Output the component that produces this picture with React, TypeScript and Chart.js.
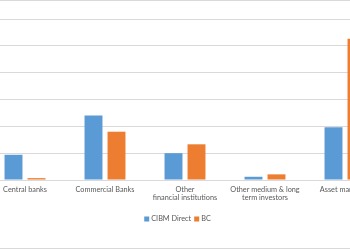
import React, { useEffect, useRef } from "react";
import { Chart, registerables } from "chart.js";

Chart.register(...registerables);

const categories: (string | string[])[] = [
  "Central banks",
  "Commercial Banks",
  ["Other", "financial institutions"],
  ["Other medium & long", "term investors"],
  "Asset managers",
];
const cibmDirect = [9.4, 24.0, 10.0, 1.2, 19.7];
const bc = [0.7, 18.0, 13.3, 2.1, 52.6];
const seriesNames = ["CIBM Direct", "BC"];
const seriesColors = ["#5B9BD5", "#ED7D31"];

const FONT = "Lato, 'Liberation Sans', sans-serif";
const TEXT_COLOR = "#595959";

// Compact legend row centred under the plot, built from the datasets.
const compactLegend = {
  id: "compactLegend",
  afterDraw(chart: any) {
    const ctx = chart.ctx as CanvasRenderingContext2D;
    const box = 5;
    const boxGap = 2;
    const itemGap = 3;
    const y = 219;
    ctx.save();
    ctx.font = `7.3px ${FONT}`;
    ctx.textBaseline = "middle";
    const items = chart.data.datasets.map((ds: any) => ({
      text: ds.label as string,
      color: ds.backgroundColor as string,
      w: ctx.measureText(ds.label).width,
    }));
    const total =
      items.reduce((s: number, it: any) => s + box + boxGap + it.w, 0) +
      itemGap * (items.length - 1);
    let x = chart.width / 2 - total / 2;
    for (const it of items) {
      ctx.fillStyle = it.color;
      ctx.fillRect(x, y - box / 2, box, box);
      x += box + boxGap;
      ctx.fillStyle = TEXT_COLOR;
      ctx.textAlign = "left";
      ctx.fillText(it.text, x, y);
      x += it.w + itemGap;
    }
    ctx.restore();
  },
};

export default function App() {
  const ref = useRef<HTMLCanvasElement | null>(null);

  useEffect(() => {
    if (!ref.current) return;
    const chart = new Chart(ref.current, {
      type: "bar",
      data: {
        labels: categories,
        datasets: [
          {
            label: seriesNames[0],
            data: cibmDirect,
            backgroundColor: seriesColors[0],
            categoryPercentage: 0.575,
            barPercentage: 0.78,
          },
          {
            label: seriesNames[1],
            data: bc,
            backgroundColor: seriesColors[1],
            categoryPercentage: 0.575,
            barPercentage: 0.78,
          },
        ],
      },
      options: {
        animation: false,
        responsive: false,
        maintainAspectRatio: false,
        layout: { padding: { left: 45, right: 30, top: 19, bottom: 40 } },
        plugins: {
          tooltip: { enabled: false },
          legend: { display: false },
        },
        scales: {
          x: {
            grid: { display: false, drawTicks: false },
            border: { display: true, color: "#d9d9d9" },
            afterFit: (scale: any) => {
              scale.height = 30;
            },
            ticks: {
              color: TEXT_COLOR,
              font: { family: FONT, size: 7.3, lineHeight: 1.2 },
              maxRotation: 0,
              autoSkip: false,
              padding: 5,
            },
          },
          y: {
            min: 0,
            max: 60,
            ticks: { display: false, stepSize: 10 },
            grid: { color: "#d9d9d9", drawTicks: false },
            border: { display: false },
          },
        },
      },
      plugins: [compactLegend],
    });
    return () => chart.destroy();
  }, []);

  return (
    <div
      style={{
        position: "fixed",
        left: 0,
        top: 0,
        width: 350,
        height: 250,
        overflow: "hidden",
        background: "#fff",
      }}
    >
      <canvas
        ref={ref}
        width={475}
        height={250}
        style={{ position: "absolute", left: -60, top: 0 }}
      />
      <div style={{ position: "absolute", left: 0, top: 0, width: 350, height: 1, background: "#d9d9d9" }} />
      <div style={{ position: "absolute", left: 0, top: 248, width: 350, height: 1, background: "#d9d9d9" }} />
    </div>
  );
}
